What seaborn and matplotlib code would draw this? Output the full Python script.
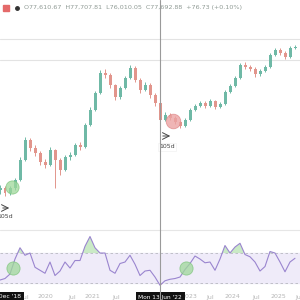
import numpy as np
import pandas as pd
import seaborn as sns
import matplotlib
matplotlib.use("Agg")
import matplotlib.pyplot as plt
from matplotlib.lines import Line2D
from matplotlib.patches import Rectangle
from matplotlib.transforms import blended_transform_factory

# ---------------- data ----------------
first_open = 36000
close = [37200, 34200, 37200, 42000, 54000, 66000, 61200, 58200, 52800, 51000,
         60000, 54000, 48000, 55800, 57000, 63000, 61800, 75000, 84000, 94200,
         106200, 105000, 99000, 91800, 97200, 103200, 109200, 102000, 96000, 99000,
         93000, 88200, 78000, 81000, 79200, 76800, 74400, 78000, 84000, 86400,
         88200, 86400, 89400, 85800, 87600, 94800, 98400, 103200, 111000, 109800,
         108600, 105600, 107400, 109800, 117000, 120000, 118200, 115800, 121200, 121800]
high = [39000, 38400, 38400, 43200, 55800, 67800, 67200, 63000, 59400, 54600,
        61800, 60600, 55200, 57000, 58800, 64200, 64800, 76200, 85800, 95400,
        108000, 108600, 106200, 99600, 98400, 104400, 111000, 110400, 103200, 100800,
        100200, 94200, 88800, 82800, 82200, 80400, 77400, 79200, 85200, 87600,
        89400, 89400, 90600, 90000, 88800, 96000, 99600, 104400, 112200, 112800,
        111000, 109800, 108600, 111000, 118200, 121200, 121200, 119400, 122400, 123000]
low = [33600, 32400, 33000, 36000, 41400, 53400, 59400, 56400, 51000, 49200,
       50400, 37200, 45000, 47400, 54000, 56400, 60000, 61200, 74400, 83400,
       93600, 103200, 97200, 90000, 90600, 96600, 102600, 100800, 94200, 95400,
       91200, 86400, 76200, 77400, 78000, 75600, 73200, 73800, 77400, 83400,
       85800, 85200, 85800, 84600, 85200, 87000, 94200, 97800, 102600, 108600,
       107400, 103800, 104400, 106800, 109200, 116400, 117000, 114600, 115200, 120600]
rsi = [34, 36, 42, 62, 77, 67, 70, 51, 47, 43,
       58, 40, 46, 58, 50, 60, 60, 79, 92, 77,
       70, 70, 47, 43, 56, 58, 67, 55, 40, 46,
       47, 38, 27, 33, 35, 36, 38, 48, 56, 66,
       62, 57, 58, 47, 62, 80, 70, 78, 83, 68,
       65, 58, 46, 52, 72, 70, 58, 45, 58, 63]
open_ = [first_open] + close[:-1]

header = "O77,610.67  H77,707.81  L76,010.05  C77,692.88  +76.73 (+0.10%)"
tick_labels = ["Jul", "2020", "Jul", "2021", "Jul", "2023", "Jul", "2024", "Jul", "2025", "Jul"]
tick_idx = [5.0, 9.0, 14.4, 18.4, 23.2, 37.9, 42.0, 46.4, 51.2, 55.6, 59.9]
start_label = "Dec '18"
cross_label = "Mon 13 Jun '22"
cross_idx = 32.0
level_lines = [126600, 114000]
buy_idx, buy_price = 2.4, 37800
sell_idx, sell_price = 34.6, 77400
rsi_sig_idx = [2.6, 37.2]
rsi_sig_val = [50, 50]
span_label = "105d"

df = pd.DataFrame({"i": np.arange(len(close)), "open": open_, "close": close,
                   "high": high, "low": low, "rsi": rsi})

# ---------------- figure ----------------
sns.set_theme(style="white")
plt.rcParams["font.family"] = ["DejaVu Sans"]
fig = plt.figure(figsize=(3, 3), dpi=100)
fig.patch.set_facecolor("white")

def fy(py):
    return 1 - py / 300.0

ax = fig.add_axes([0, fy(229), 1, fy(15) - fy(229)])
ax2 = fig.add_axes([0, fy(290), 1, fy(230) - fy(290)])
for a in (ax, ax2):
    a.set_facecolor("white")
    for s in a.spines.values():
        s.set_visible(False)
    a.set_xticks([])
    a.set_yticks([])
    a.set_xlim(0, 60)

ax.set_ylim(12600, 141000)
ax2.set_ylim(20.7, 100.7)

green = "#6fb9a6"
red = "#e2958c"
up = df["close"] >= df["open"]
cols = np.where(up, green, red)

for lv in level_lines:
    ax.axhline(lv, color="#e3e3e3", lw=0.8, zorder=0)

ax.vlines(df["i"], df["low"], df["high"], colors=cols, lw=0.7, zorder=2)
body = (df["close"] - df["open"]).abs().clip(lower=600)
ax.bar(df["i"], body, bottom=np.minimum(df["open"], df["close"]), width=0.6,
       color=cols, linewidth=0, zorder=3)

ax.scatter([buy_idx], [buy_price], s=90, color="#9fd89a", alpha=0.75,
           edgecolor="#7cc47a", lw=0.6, zorder=4)
ax.scatter([sell_idx], [sell_price], s=110, color="#eba3a3", alpha=0.8,
           edgecolor="#e08a8a", lw=0.6, zorder=4)

# arrows and span labels
ax.annotate("", xy=(2.4, 25200), xytext=(0, 25200),
            arrowprops=dict(arrowstyle="->", color="#444", lw=0.7))
ax.text(1.0, 19800, span_label, fontsize=4.5, color="#444", ha="center", va="center")
ax.annotate("", xy=(34.6, 68400), xytext=(32.0, 68400),
            arrowprops=dict(arrowstyle="->", color="#444", lw=0.7))
ax.text(33.4, 61800, span_label, fontsize=4.5, color="#444", ha="center", va="center",
        bbox=dict(boxstyle="square,pad=0.25", fc="white", ec="#eeeeee", lw=0.4))

# RSI panel
ax2.axhspan(30, 70, color="#efebf9", zorder=0)
for lv in (70, 30):
    ax2.axhline(lv, color="#b8b8c0", lw=0.6, ls=(0, (3, 3)), zorder=1)
sns.lineplot(data=df, x="i", y="rsi", ax=ax2, color="#9a85cf", lw=0.8, zorder=3)
r = np.array(rsi, dtype=float)
ax2.fill_between(df["i"], r, 70, where=r > 70, interpolate=True,
                 color="#a8dca0", alpha=0.6, lw=0, zorder=2)
ax2.fill_between(df["i"], r, 30, where=r < 30, interpolate=True,
                 color="#f0b0b0", alpha=0.6, lw=0, zorder=2)
ax2.scatter(rsi_sig_idx, rsi_sig_val, s=90, color="#9fd89a", alpha=0.75,
            edgecolor="#7cc47a", lw=0.6, zorder=4)
ax2.set_xlabel("")
ax2.set_ylabel("")
ax2.set_xlim(0, 60)

# separator and crosshair
fig.add_artist(Line2D([0, 1], [fy(229.5), fy(229.5)], transform=fig.transFigure,
                      color="#e6e6e6", lw=0.8))
cx = cross_idx / 60.0
fig.add_artist(Line2D([cx, cx], [0, 1], transform=fig.transFigure,
                      color="#9a9a9a", lw=0.8, zorder=10))

# date labels
tr = blended_transform_factory(ax2.transData, fig.transFigure)
for lab, xi in zip(tick_labels, tick_idx):
    ax2.text(xi, fy(297), lab, transform=tr, fontsize=4.5, color="#b5b5b5",
             ha="center", va="center", clip_on=False)
ax2.text(2.0, fy(297), start_label, transform=tr, fontsize=4.3, color="white",
         ha="center", va="center", clip_on=False,
         bbox=dict(boxstyle="square,pad=0.5", fc="#111111", ec="none"))
ax2.text(cross_idx, fy(297), cross_label, transform=tr, fontsize=4.2, color="white",
         ha="center", va="center", clip_on=False, zorder=12,
         bbox=dict(boxstyle="square,pad=0.45", fc="#111111", ec="none"))

# header
fig.add_artist(Rectangle((3 / 300, fy(11)), 6 / 300, 6 / 300, transform=fig.transFigure,
                         color="#e46a6a"))
fig.add_artist(Line2D([17 / 300], [fy(8)], transform=fig.transFigure, marker="o",
                      markersize=2.5, color="#333333", lw=0))
fig.text(24 / 300, fy(8), header, fontsize=4.6, color="#8f9a94", ha="left", va="center")

fig.savefig("out.png", dpi=100, facecolor="white")
